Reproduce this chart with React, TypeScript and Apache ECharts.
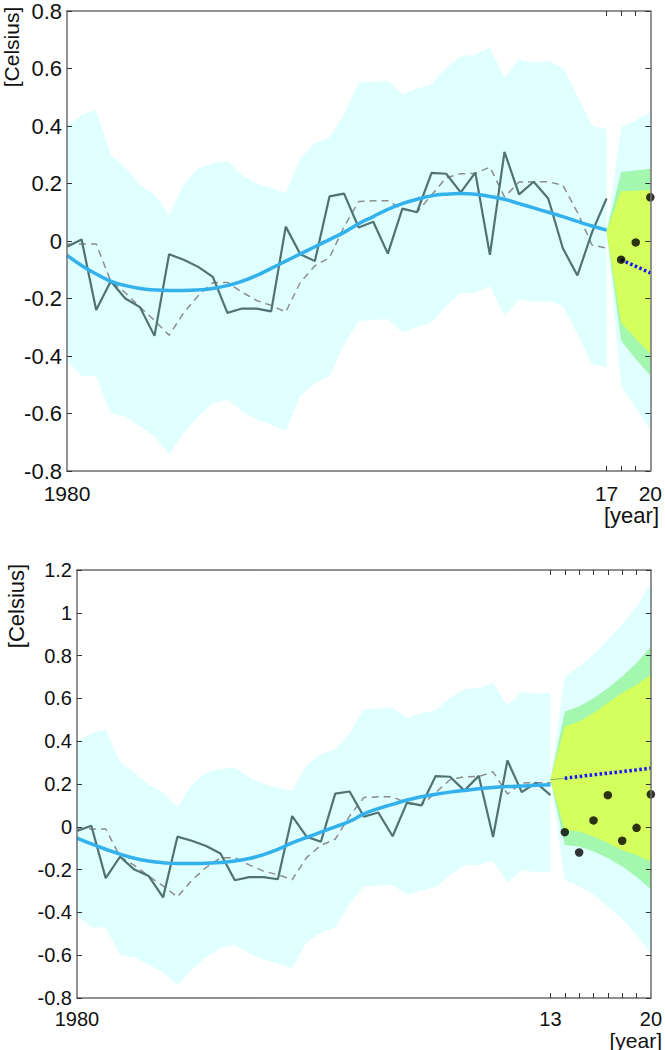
import React, { useEffect, useRef } from "react";
import * as echarts from "echarts";

// ---- observed record, 1980-2017 ----
const years = [
  1980, 1981, 1982, 1983, 1984, 1985, 1986, 1987, 1988, 1989,
  1990, 1991, 1992, 1993, 1994, 1995, 1996, 1997, 1998, 1999,
  2000, 2001, 2002, 2003, 2004, 2005, 2006, 2007, 2008, 2009,
  2010, 2011, 2012, 2013, 2014, 2015, 2016, 2017,
];
const observed = [
  -0.02, 0.005, -0.24, -0.14, -0.2, -0.23, -0.33, -0.046, -0.065, -0.09,
  -0.125, -0.25, -0.235, -0.235, -0.245, 0.05, -0.046, -0.07, 0.155, 0.165,
  0.047, 0.067, -0.044, 0.113, 0.1, 0.237, 0.234, 0.169, 0.238, -0.048,
  0.31, 0.162, 0.206, 0.148, -0.025, -0.12, 0.03, 0.148,
];
// one-year-ahead hindcast (dashed)
const hindcast = [
  -0.01, -0.01, -0.01, -0.14, -0.18, -0.23, -0.276, -0.328, -0.25, -0.19,
  -0.145, -0.144, -0.178, -0.207, -0.224, -0.247, -0.144, -0.086, -0.058, 0.05,
  0.137, 0.14, 0.14, 0.11, 0.1, 0.16, 0.22, 0.234, 0.235, 0.257,
  0.153, 0.205, 0.206, 0.206, 0.194, 0.1, -0.014, -0.025,
];
// uncertainty envelope of the record
const envUpper = [
  0.4, 0.437, 0.455, 0.3, 0.255, 0.196, 0.162, 0.09, 0.196, 0.255,
  0.27, 0.278, 0.23, 0.2, 0.184, 0.167, 0.288, 0.34, 0.36, 0.44,
  0.551, 0.553, 0.557, 0.51, 0.53, 0.545, 0.603, 0.643, 0.649, 0.672,
  0.568, 0.631, 0.62, 0.626, 0.603, 0.505, 0.4, 0.39,
];
const envLower = [
  -0.414, -0.47, -0.47, -0.6, -0.61, -0.644, -0.68, -0.742, -0.667, -0.61,
  -0.564, -0.552, -0.593, -0.62, -0.64, -0.66, -0.54, -0.495, -0.47, -0.36,
  -0.278, -0.275, -0.272, -0.318, -0.298, -0.284, -0.226, -0.18, -0.18, -0.157,
  -0.26, -0.203, -0.212, -0.209, -0.226, -0.324, -0.428, -0.44,
];
// fitted trend, fit through 2017
const trendA = [
  -0.05, -0.085, -0.115, -0.14, -0.155, -0.165, -0.17, -0.172, -0.172, -0.17,
  -0.165, -0.155, -0.14, -0.12, -0.095, -0.07, -0.045, -0.02, 0.005, 0.03,
  0.06, 0.085, 0.11, 0.13, 0.145, 0.157, 0.163, 0.165, 0.163, 0.155,
  0.145, 0.13, 0.115, 0.1, 0.085, 0.068, 0.052, 0.038,
];
// fitted trend, fit through 2013
const trendB = [
  -0.053, -0.08, -0.105, -0.128, -0.147, -0.16, -0.168, -0.172, -0.172, -0.17,
  -0.167, -0.16, -0.148, -0.13, -0.105, -0.075, -0.05, -0.025, 0.0, 0.025,
  0.06, 0.085, 0.105, 0.125, 0.14, 0.152, 0.162, 0.17, 0.178, 0.184,
  0.188, 0.191, 0.194, 0.196,
];
// later observations
const laterYears = [2018, 2019, 2020];
const laterObs = [-0.065, -0.005, 0.152];

// ---- forecast from 2017 ----
const fcYearsA = [2017, 2018, 2019, 2020];
const fcOuterHiA = [0.033, 0.395, 0.42, 0.447];
const fcOuterLoA = [0.033, -0.503, -0.58, -0.658];
const fcMidHiA = [0.033, 0.24, 0.245, 0.251];
const fcMidLoA = [0.033, -0.347, -0.41, -0.468];
const fcInnerHiA = [0.033, 0.173, 0.175, 0.177];
const fcInnerLoA = [0.033, -0.284, -0.34, -0.393];
const fcMeanYearsA = [2018, 2019, 2020];
const fcMeanA = [-0.065, -0.088, -0.111];

// ---- forecast from 2013 ----
const fcYearsB = [2013, 2014, 2015, 2016, 2017, 2018, 2019, 2020];
const fcOuterHiB = [0.22, 0.702, 0.749, 0.804, 0.874, 0.944, 1.03, 1.139];
const fcOuterLoB = [0.22, -0.248, -0.279, -0.318, -0.372, -0.43, -0.505, -0.591];
const fcMidHiB = [0.22, 0.539, 0.562, 0.601, 0.648, 0.702, 0.765, 0.84];
const fcMidLoB = [0.22, -0.085, -0.092, -0.115, -0.146, -0.186, -0.233, -0.292];
const fcInnerHiB = [0.22, 0.469, 0.492, 0.531, 0.578, 0.625, 0.664, 0.71];
const fcInnerLoB = [0.22, -0.015, -0.022, -0.045, -0.076, -0.109, -0.132, -0.162];
const fcMeanYearsB = [2014, 2015, 2016, 2017, 2018, 2019, 2020];
const fcMeanB = [0.227, 0.235, 0.243, 0.251, 0.258, 0.266, 0.274];

const FONT = "'Liberation Sans', Arial, Helvetica, sans-serif";
const AXIS_COLOR = "#6e6e6e";
const CYAN = "#e0ffff";
const GREEN = "#a3f7ae";
const YELLOW = "#d4ff5c";

const pairs = (xs: number[], ys: number[]) => xs.map((x, i) => [x, ys[i]]);

function band(xi: number, xs: number[], lo: number[], hi: number[], fill: string, z: number) {
  return {
    type: "custom",
    xAxisIndex: xi,
    yAxisIndex: xi,
    silent: true,
    z,
    data: xs.map((x, i) => [x, lo[i], hi[i]]),
    encode: { x: 0, y: [1, 2] },
    renderItem: (params: any, api: any) => {
      if (params.dataIndexInside !== 0) return null;
      const n = params.dataInsideLength;
      const top: number[][] = [];
      const bottom: number[][] = [];
      for (let i = 0; i < n; i++) {
        top.push(api.coord([api.value(0, i), api.value(2, i)]));
        bottom.push(api.coord([api.value(0, i), api.value(1, i)]));
      }
      return {
        type: "polygon",
        shape: { points: top.concat(bottom.reverse()) },
        style: { fill },
      };
    },
  };
}

function line(xi: number, data: number[][], style: any, z: number, smooth = false) {
  return {
    type: "line",
    xAxisIndex: xi,
    yAxisIndex: xi,
    data,
    symbol: "none",
    smooth,
    silent: true,
    z,
    lineStyle: style,
  };
}

function dots(xi: number, data: number[][]) {
  return {
    type: "scatter",
    xAxisIndex: xi,
    yAxisIndex: xi,
    data,
    symbolSize: 8.5,
    itemStyle: { color: "#000" },
    silent: true,
    z: 10,
  };
}

function xAxes(grid: number, ticks: number[], labels: number[], margin: number, fontSize: number) {
  const common = {
    type: "value",
    gridIndex: grid,
    min: 1980,
    max: 2020,
    splitLine: { show: false },
    axisLine: { show: true, onZero: false, lineStyle: { color: AXIS_COLOR, width: 1.5 } },
    axisTick: {
      show: true,
      inside: true,
      length: 5,
      customValues: ticks,
      lineStyle: { color: "#333", width: 1 },
    },
    z: 20,
  };
  return [
    {
      ...common,
      position: "bottom",
      axisLabel: {
        show: true,
        customValues: labels,
        margin,
        fontFamily: FONT,
        fontSize,
        lineHeight: 19,
        color: "#111",
        formatter: (v: number) => (v === 1980 ? "1980" : String(v).slice(2)),
      },
    },
    { ...common, position: "top", axisLabel: { show: false } },
  ];
}

function yAxes(grid: number, min: number, max: number, fontSize: number) {
  const common = {
    type: "value",
    gridIndex: grid,
    min,
    max,
    interval: 0.2,
    splitLine: { show: false },
    axisLine: { show: true, onZero: false, lineStyle: { color: AXIS_COLOR, width: 1.5 } },
    axisTick: { show: true, inside: true, length: 5, lineStyle: { color: "#333", width: 1 } },
    z: 20,
  };
  return [
    {
      ...common,
      position: "left",
      axisLabel: { show: true, margin: 5, fontFamily: FONT, fontSize, lineHeight: 18, color: "#111" },
    },
    { ...common, position: "right", axisLabel: { show: false } },
  ];
}

export default function App() {
  const ref = useRef<HTMLDivElement>(null);

  useEffect(() => {
    document.body.style.margin = "0";
    const chart = echarts.init(ref.current!, null, { renderer: "svg" });

    const nB = trendB.length;
    const yearsB = years.slice(0, nB);
    const dotsA = pairs(laterYears, laterObs);
    const dotsB = pairs(years.slice(34), observed.slice(34)).concat(dotsA);

    const series: any[] = [];
    // upper panel draws on x/y axis 0, lower panel on x/y axis 2
    const panels = [
      {
        xi: 0,
        xs: years,
        obs: observed,
        hc: hindcast,
        up: envUpper,
        lo: envLower,
        trend: trendA,
        fc: [fcYearsA, fcOuterLoA, fcOuterHiA, fcMidLoA, fcMidHiA, fcInnerLoA, fcInnerHiA],
        mean: pairs(fcMeanYearsA, fcMeanA),
        link: null as number[][] | null,
        dots: dotsA,
      },
      {
        xi: 2,
        xs: yearsB,
        obs: observed.slice(0, nB),
        hc: hindcast.slice(0, nB),
        up: envUpper.slice(0, nB),
        lo: envLower.slice(0, nB),
        trend: trendB,
        fc: [fcYearsB, fcOuterLoB, fcOuterHiB, fcMidLoB, fcMidHiB, fcInnerLoB, fcInnerHiB],
        mean: pairs(fcMeanYearsB, fcMeanB),
        link: [[fcYearsB[0], fcInnerHiB[0]], [fcMeanYearsB[0], fcMeanB[0]]],
        dots: dotsB,
      },
    ];

    panels.forEach((p) => {
      const [fx, oLo, oHi, mLo, mHi, iLo, iHi] = p.fc as number[][];
      series.push(band(p.xi, p.xs, p.lo, p.up, CYAN, 1));
      series.push(band(p.xi, fx, oLo, oHi, CYAN, 1));
      series.push(band(p.xi, fx, mLo, mHi, GREEN, 2));
      series.push(band(p.xi, fx, iLo, iHi, YELLOW, 3));
      series.push(line(p.xi, pairs(p.xs, p.hc), { color: "#8c8c8c", width: 1.5, type: [7, 5] }, 4));
      series.push(line(p.xi, pairs(p.xs, p.obs), { color: "#4f7373", width: 2.2 }, 5));
      series.push(line(p.xi, pairs(p.xs, p.trend), { color: "#33b1ec", width: 3.5 }, 6, true));
      if (p.link) series.push(line(p.xi, p.link, { color: "#86b86a", width: 1 }, 7));
      series.push(line(p.xi, p.mean, { color: "#1414ff", width: 3.5, type: [2.5, 2.5] }, 8));
      series.push(dots(p.xi, p.dots));
    });

    const label = (text: string, extra: any) => ({
      type: "text",
      silent: true,
      style: { text, fontFamily: FONT, fontSize: 22, fill: "#111", ...extra },
    });

    chart.setOption({
      animation: false,
      backgroundColor: "#fff",
      grid: [
        { left: 67, top: 8, width: 586, height: 463 },
        { left: 77, top: 570, width: 576, height: 428 },
      ],
      xAxis: [
        ...xAxes(0, [2017, 2018, 2019], [1980, 2017, 2020], 13, 21),
        ...xAxes(1, [2013, 2014, 2015, 2016, 2017, 2018, 2019], [1980, 2013, 2020], 11, 20),
      ],
      yAxis: [...yAxes(0, -0.8, 0.8, 22), ...yAxes(1, -0.8, 1.2, 20)],
      series,
      graphic: [
        {
          ...label("[Celsius]", { textAlign: "center", textVerticalAlign: "middle", fontSize: 21 }),
          x: 11,
          y: 47,
          rotation: Math.PI / 2,
        },
        {
          ...label("[year]", { textAlign: "right", textVerticalAlign: "bottom", lineHeight: 21 }),
          x: 659,
          y: 526,
        },
        {
          ...label("[year]", { textAlign: "right", textVerticalAlign: "bottom", fontSize: 21, lineHeight: 20 }),
          x: 662,
          y: 1050,
        },
        {
          ...label("[Celsius]", { textAlign: "center", textVerticalAlign: "middle" }),
          x: 16,
          y: 606,
          rotation: Math.PI / 2,
        },
      ],
    });

    return () => chart.dispose();
  }, []);

  return <div ref={ref} style={{ width: 665, height: 1050 }} />;
}
